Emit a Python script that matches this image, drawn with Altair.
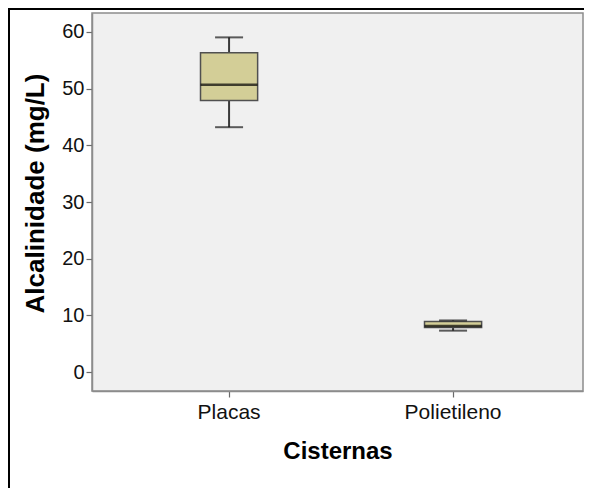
import altair as alt
import pandas as pd

categories = ["Placas", "Polietileno"]
whisker_low = [43.2, 7.3]
q1 = [47.9, 7.85]
median = [50.7, 8.1]
q3 = [56.35, 8.9]
whisker_high = [59.05, 9.1]

df = pd.DataFrame({
    "Cisternas": categories,
    "lo": whisker_low,
    "q1": q1,
    "med": median,
    "q3": q3,
    "hi": whisker_high,
})

W, H = 491, 378
FONT = "Liberation Sans"

x_enc = alt.X("Cisternas:N", sort=categories,
              scale=alt.Scale(type="band", paddingInner=0.745, paddingOuter=0.4685, align=0.517),
              axis=alt.Axis(title="Cisternas", labelAngle=0, tickSize=6, labelPadding=4,
                            labelFontSize=21,
                            titleFontSize=24, titleFontWeight="bold", titleY=67,
                            titleBaseline="alphabetic"))
y_scale = alt.Scale(domain=[-3.35, 63.35], nice=False, zero=False)
y_axis = alt.Axis(title="Alcalinidade (mg/L)", values=[0, 10, 20, 30, 40, 50, 60],
                  tickSize=6, labelPadding=2, grid=False, labelFontSize=20,
                  titleFontSize=26, titleFontWeight="bold", titleAngle=-90,
                  titleX=-57, titleY=180, titleAlign="center", titleBaseline="middle")

base = alt.Chart(df)

whisk_up = base.mark_rule(color="#3a3a3a", strokeWidth=2).encode(
    x=x_enc, y=alt.Y("q3:Q", scale=y_scale, axis=y_axis), y2="hi:Q")
whisk_dn = base.mark_rule(color="#3a3a3a", strokeWidth=2).encode(
    x=x_enc, y=alt.Y("lo:Q", scale=y_scale, axis=y_axis), y2="q1:Q")
box = base.mark_bar(fill="#D3CE97", stroke="#505050", strokeWidth=1.5).encode(
    x=x_enc, y=alt.Y("q1:Q", scale=y_scale, axis=y_axis), y2="q3:Q")
med = base.mark_tick(color="#000000", thickness=2.5, size=57).encode(
    x=x_enc, y=alt.Y("med:Q", scale=y_scale, axis=y_axis))
cap_hi = base.mark_tick(color="#1a1a1a", thickness=2, size=28).encode(
    x=x_enc, y=alt.Y("hi:Q", scale=y_scale, axis=y_axis))
cap_lo = base.mark_tick(color="#1a1a1a", thickness=2, size=28).encode(
    x=x_enc, y=alt.Y("lo:Q", scale=y_scale, axis=y_axis))

frame_df = pd.DataFrame({"k": [0]})
frame_top = alt.Chart(frame_df).mark_rule(color="black", strokeWidth=2).encode(
    x=alt.value(-84), x2=alt.value(W + 20), y=alt.value(-4))
frame_left = alt.Chart(frame_df).mark_rule(color="black", strokeWidth=2).encode(
    x=alt.value(-83), y=alt.value(-5), y2=alt.value(H + 120))

chart = alt.layer(
    whisk_up, whisk_dn, box, med, cap_hi, cap_lo, frame_top, frame_left
).properties(
    width=W, height=H,
    autosize=alt.AutoSizeParams(type="none"),
    padding={"left": 84, "top": 5, "right": 1, "bottom": 97},
    background="white",
).configure_view(
    fill="#F0F0F0", stroke="#8c8c8c", strokeWidth=1.5
).configure_axis(
    labelFont=FONT, titleFont=FONT, labelColor="#111111",
    titleColor="#000000", domainColor="#8c8c8c", tickColor="#6a6a6a",
    domainWidth=1.5, tickWidth=1.2
)

chart.save("out.html", embed_options={"renderer": "svg", "actions": False})
